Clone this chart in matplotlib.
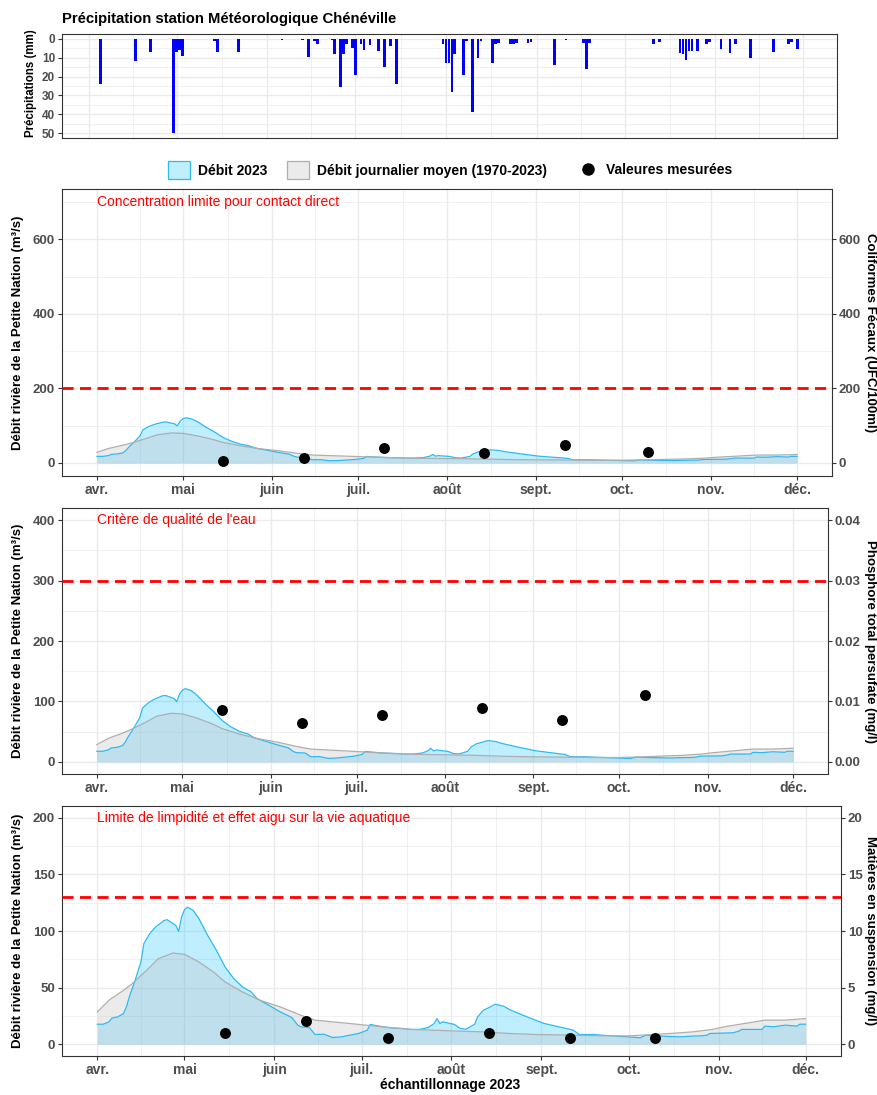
"""
Débit de la Petite Nation 2023 + précipitations Chénéville + paramètres mesurés.
"""

import numpy as np
import matplotlib
matplotlib.use("Agg")
import matplotlib.pyplot as plt
import matplotlib.dates as mdates
from matplotlib.patches import Patch
from matplotlib.lines import Line2D

plt.rcParams["font.family"] = ["Liberation Sans", "DejaVu Sans"]
plt.rcParams["font.weight"] = "bold"

W, H = 877, 1095

# ---- données -------------------------------------------------------------
month_starts = ["04-01", "05-01", "06-01", "07-01", "08-01",
                "09-01", "10-01", "11-01", "12-01"]
month_labels = ["avr.", "mai", "juin", "juil.", "août",
                "sept.", "oct.", "nov.", "déc."]

precip_dates = ["04-05", "04-17", "04-22", "04-30", "05-01", "05-02", "05-03",
                "05-14", "05-15", "05-22", "06-06", "06-13", "06-15", "06-17",
                "06-18", "06-23", "06-24", "06-26", "06-27", "06-28", "06-30",
                "07-01", "07-03", "07-04", "07-06", "07-09", "07-11", "07-13",
                "07-15", "07-31", "08-01", "08-02", "08-03", "08-04", "08-07",
                "08-08", "08-10", "08-12", "08-13", "08-17", "08-18", "08-19",
                "08-23", "08-24", "08-25", "08-29", "08-30", "09-07", "09-11",
                "09-17", "09-18", "09-19", "10-11", "10-13", "10-20", "10-21",
                "10-22", "10-23", "10-24", "10-26", "10-29", "10-30", "11-03",
                "11-06", "11-08", "11-13", "11-21", "11-26", "11-27", "11-29"]
precip_mm = [24, 12, 7, 50, 7, 6, 9,
             1, 7, 7, 0.5, 0.5, 9.5, 1,
             3, 0.5, 8, 25.5, 8, 3, 5,
             19, 3, 6, 3.5, 6.5, 15, 4,
             24, 3, 13, 13, 28, 8, 19,
             1, 39, 10, 1, 13, 3, 2.5,
             3, 3, 2, 2.5, 1.5, 14, 0.5,
             2, 16, 2, 3, 1.5, 7.5, 8,
             11, 6.5, 6.5, 6.5, 3, 1.5, 5.5,
             7.5, 3, 10, 7, 3, 1.5, 5.5]

flow_dates = ["04-01", "04-03", "04-05", "04-06", "04-08", "04-10", "04-11",
              "04-12", "04-14", "04-16", "04-17", "04-19", "04-21", "04-24",
              "04-25", "04-28", "04-29", "04-30", "05-01", "05-02", "05-04",
              "05-06", "05-09", "05-12", "05-15", "05-18", "05-21", "05-24",
              "05-26", "05-30", "06-03", "06-07", "06-09", "06-10", "06-13",
              "06-15", "06-18", "06-21", "06-24", "06-27", "06-30", "07-03",
              "07-04", "07-07", "07-11", "07-15", "07-18", "07-21", "07-24",
              "07-26", "07-27", "07-28", "07-29", "08-02", "08-04", "08-06",
              "08-09", "08-10", "08-12", "08-14", "08-16", "08-19", "08-21",
              "08-27", "09-02", "09-08", "09-12", "09-14", "09-19", "09-25",
              "10-01", "10-05", "10-07", "10-12", "10-19", "10-23", "10-26",
              "10-28", "10-29", "11-06", "11-08", "11-09", "11-16", "11-17",
              "11-20", "11-24", "11-28", "11-29", "12-01"]
flow_2023 = [17.6, 17.6, 19.7, 23, 24.1, 27, 33,
             41.7, 56.4, 72.6, 88.8, 97.6, 103.4, 109.3,
             110, 105, 99.6, 112.3, 118.8, 121.1, 118.2,
             110.8, 96.1, 82.9, 68.2, 57.9, 50.5, 46.1,
             40.3, 34.4, 28.5, 23.5, 16.8, 15.3, 14.7,
             8.5, 8.8, 5.9, 6.4, 7.9, 9.4, 12.3,
             17.4, 15.9, 14.4, 13.8, 13, 13, 14.7,
             18.2, 22.6, 18.2, 19.7, 17.4, 13.8, 13.2,
             17.6, 24.1, 30, 32.4, 35.3, 33.5, 30.5,
             24.1, 18.2, 14.7, 12.3, 8.5, 8.5, 7.3,
             6.4, 5.6, 7.9, 7.1, 6.4, 7.1, 7.3,
             7.9, 9.4, 10, 11.5, 13, 13, 15.9,
             15.3, 16.8, 15.9, 17.6, 17.6]

mean_dates = ["04-01", "04-05", "04-10", "04-13", "04-18", "04-22", "04-27",
              "05-01", "05-06", "05-11", "05-15", "05-21", "05-27", "06-03",
              "06-10", "06-15", "06-27", "07-08", "07-18", "08-01", "08-12",
              "08-21", "08-30", "09-11", "09-22", "10-01", "10-10", "10-23",
              "10-30", "11-03", "11-17", "11-24", "12-01"]
flow_mean = [28.5, 38.8, 47.6, 53.5, 65.3, 75.6, 80.5,
             79.4, 72.6, 63.8, 54.9, 46.1, 38.8, 32.9,
             25.6, 21.2, 18.2, 15.3, 13, 11.7, 10.8,
             9.4, 8.5, 7.9, 7.3, 7.3, 8.5, 10.8,
             13, 15.3, 21.2, 21.2, 22.6]

sample_dates = ["05-15", "06-12", "07-10", "08-14", "09-11", "10-10"]
coliformes = [5, 13, 40, 27, 48, 30]
phosphore = [0.0086, 0.0064, 0.0078, 0.0089, 0.0069, 0.0111]
mes = [1.0, 2.0, 0.5, 1.0, 0.5, 0.5]


def to_num(days):
    return mdates.date2num(np.array(["2023-" + s for s in days], dtype="datetime64[D]"))


x_months = to_num(month_starts)
x_mid = (x_months[:-1] + x_months[1:]) / 2
x_precip = to_num(precip_dates)
x_flow = to_num(flow_dates)
x_mean = to_num(mean_dates)
x_samp = to_num(sample_dates)

# ---- styles ---------------------------------------------------------------
GRID = "#EBEBEB"
EDGE = "#333333"
TICK = "#4D4D4D"
BLUE_LINE = "#2BBAF2"
GREY_LINE = "#AEAEAE"
FS_TICK = 9.5
FS_TITLE = 9.5


def px_rect(l, t, r, b):
    return [l / W, 1 - b / H, (r - l) / W, (b - t) / H]


def style_axes(ax):
    for s in ax.spines.values():
        s.set_color(EDGE)
        s.set_linewidth(0.8)
    ax.tick_params(which="major", color=EDGE, length=3, width=0.8, pad=2,
                   labelcolor=TICK, labelsize=FS_TICK)
    ax.tick_params(which="minor", length=0)
    ax.grid(which="major", color=GRID, lw=1.0)
    ax.grid(which="minor", color=GRID, lw=0.5)
    ax.set_axisbelow(True)


fig = plt.figure(figsize=(W / 100, H / 100), dpi=100)

# ---- précipitations ------------------------------------------------------
axp = fig.add_axes(px_rect(62, 34, 837, 138))
axp.bar(x_precip, precip_mm, width=0.9, color="#0000FF", zorder=3)
axp.set_yticks([0, 10, 20, 30, 40, 50])
axp.set_yticks([5, 15, 25, 35, 45], minor=True)
axp.set_xticks(x_months)
axp.set_xticks(x_mid, minor=True)
axp.set_xlim(x_months[0] - 9.2, x_months[-1] + 11.6)
axp.set_ylim(52.5, -2.5)
style_axes(axp)
axp.tick_params(axis="y", labelsize=8.5)
axp.tick_params(axis="x", which="both", length=0, labelbottom=False)
fig.text(62 / W, 1 - 19 / H, "Précipitation station Météorologique Chénéville",
         fontsize=10.7, ha="left", va="center", color="black")
fig.text(31 / W, 1 - 83 / H, "Précipitations (mm)", fontsize=8.3,
         rotation=90, ha="center", va="center")

# ---- légende -------------------------------------------------------------
fill_handles = [
    Patch(facecolor=(0.75, 0.937, 1.0), edgecolor=BLUE_LINE, lw=0.9),
    Patch(facecolor="#EBEBEB", edgecolor=GREY_LINE, lw=0.9),
]
fig.legend(fill_handles, ["Débit 2023", "Débit journalier moyen (1970-2023)"],
           loc="center left", bbox_to_anchor=(168 / W, 1 - 170 / H), ncol=2,
           frameon=False, fontsize=10, handlelength=1.55, handleheight=1.55,
           columnspacing=1.45, handletextpad=0.6, borderpad=0,
           borderaxespad=0)
point_handle = Line2D([], [], ls="none", marker="o", markersize=8,
                      color="black")
fig.legend([point_handle], ["Valeures mesurées"],
           loc="center left", bbox_to_anchor=(577 / W, 1 - 170 / H),
           frameon=False, fontsize=10, handlelength=1.55, handletextpad=0.55,
           borderpad=0, borderaxespad=0)

# ---- panneaux débit -------------------------------------------------------
panels = [
    dict(rect=(62, 189, 832, 476), ylim=(-35, 735), yticks=[0, 200, 400, 600],
         ratio=1, sec_ticks=[0, 200, 400, 600], sec_fmt="{:g}",
         samples=coliformes, thresh=200, note_y=700,
         note="Concentration limite pour contact direct",
         right_title="Coliformes Fécaux (UFC/100ml)"),
    dict(rect=(62, 508, 828, 774), ylim=(-20, 420),
         yticks=[0, 100, 200, 300, 400], ratio=10000,
         sec_ticks=[0, 0.01, 0.02, 0.03, 0.04], sec_fmt="{:.2f}",
         samples=phosphore, thresh=300, note_y=400,
         note="Critère de qualité de l'eau",
         right_title="Phosphore total persufate (mg/l)"),
    dict(rect=(62, 806, 841, 1056), ylim=(-10.5, 210.5),
         yticks=[0, 50, 100, 150, 200], ratio=10,
         sec_ticks=[0, 5, 10, 15, 20], sec_fmt="{:g}",
         samples=mes, thresh=130, note_y=200,
         note="Limite de limpidité et effet aigu sur la vie aquatique",
         right_title="Matières en suspension (mg/l)"),
]

for i, p in enumerate(panels):
    l, t, r, b = p["rect"]
    ax = fig.add_axes(px_rect(l, t, r, b))

    ax.fill_between(x_flow, flow_2023, 0, color=(0, 0.75, 1.0), alpha=0.25,
                    lw=0, zorder=2)
    ax.plot(x_flow, flow_2023, color=BLUE_LINE, lw=0.9, zorder=3)
    ax.fill_between(x_mean, flow_mean, 0, color=(0.745, 0.745, 0.745),
                    alpha=0.3, lw=0, zorder=2)
    ax.plot(x_mean, flow_mean, color=GREY_LINE, lw=0.9, zorder=3)

    ax.axhline(p["thresh"], color="red", lw=2.0, ls=(0, (4, 2.3)), zorder=4)
    ax.scatter(x_samp, np.array(p["samples"]) * p["ratio"], s=62,
               color="black", zorder=5, lw=0)
    ax.text(x_months[0], p["note_y"], p["note"], color="red",
            fontweight="normal", fontsize=10, ha="left", va="center", zorder=6)

    yt = p["yticks"]
    step = yt[1] - yt[0]
    ax.set_yticks(yt)
    ax.set_yticks([v + step / 2 for v in yt], minor=True)
    ax.set_xticks(x_months)
    ax.set_xticklabels(month_labels)
    ax.set_xticks(x_mid, minor=True)
    ax.set_xlim(x_months[0] - 12.2, x_months[-1] + 12.2)
    ax.set_ylim(*p["ylim"])
    style_axes(ax)
    ax.tick_params(axis="x", labelsize=10)

    ax2 = ax.twinx()
    ax2.set_yticks(p["sec_ticks"])
    ax2.set_yticklabels([p["sec_fmt"].format(v) for v in p["sec_ticks"]])
    ax2.set_ylim(p["ylim"][0] / p["ratio"], p["ylim"][1] / p["ratio"])
    for s in ax2.spines.values():
        s.set_visible(False)
    ax2.tick_params(color=EDGE, length=3, width=0.8, pad=2, labelcolor=TICK,
                    labelsize=FS_TICK)

    yc = 1 - (t + b) / 2 / H
    fig.text(18 / W, yc, "Débit rivière de la Petite Nation (m³/s)",
             fontsize=FS_TITLE, rotation=90, ha="center", va="center")
    fig.text(870 / W, yc, p["right_title"], fontsize=FS_TITLE,
             rotation=270, ha="center", va="center")

fig.text(450 / W, 1 - 1085 / H, "échantillonnage 2023", fontsize=10,
         ha="center", va="center")

fig.savefig("out.png", dpi=100)
plt.close(fig)
